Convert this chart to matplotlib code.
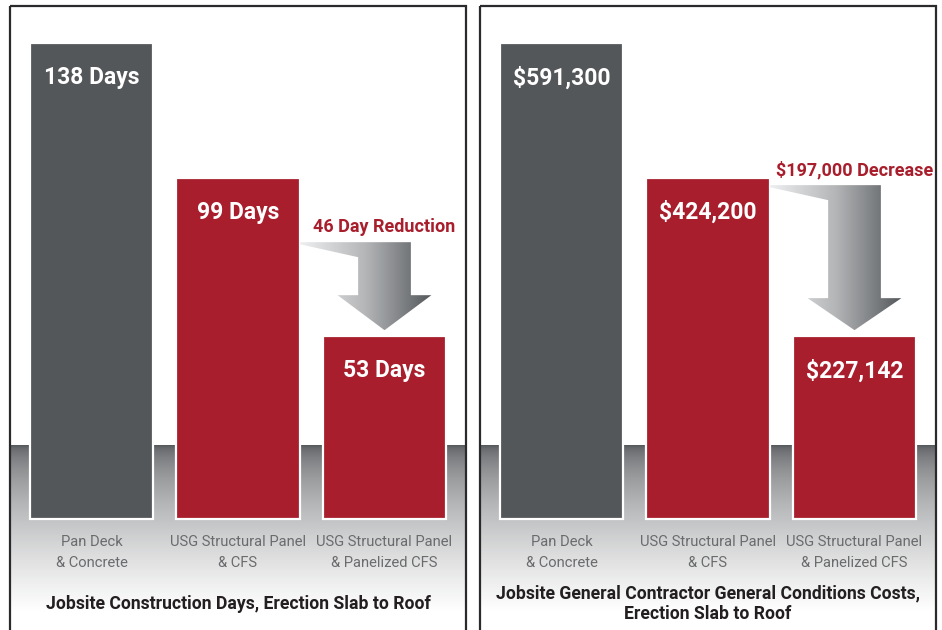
from __future__ import annotations

import matplotlib

matplotlib.use("Agg")
import matplotlib.pyplot as plt
import numpy as np
from matplotlib.colors import LinearSegmentedColormap
from matplotlib.patches import Polygon, Rectangle

# --- data -------------------------------------------------------------------
categories = ["Pan Deck\n& Concrete", "USG Structural Panel\n& CFS", "USG Structural Panel\n& Panelized CFS"]
days = [138, 99, 53]
costs = [591300, 424200, 227142]
day_labels = [f"{v} Days" for v in days]
cost_labels = [f"${v:,}" for v in costs]
day_note = "46 Day Reduction"
cost_note = "$197,000 Decrease"
day_title = "Jobsite Construction Days, Erection Slab to Roof"
cost_title = "Jobsite General Contractor General Conditions Costs,\nErection Slab to Roof"

# --- style ------------------------------------------------------------------
W, H = 942, 630
GRAY = "#54575a"
RED = "#a81e2c"
LABEL_GRAY = "#6a6b6d"
FONT = ["Liberation Sans Narrow", "Roboto", "DejaVu Sans"]
BAR_COLORS = [GRAY, RED, RED]
BAR_WIDTH = 0.84
BASE_PX = 519     # bar baseline, pixels from top
TOP_PX = 43       # top of tallest bar
SPACING_PX = 146.5

plt.rcParams["font.family"] = FONT


def _fig_rect(x0: float, y0: float, x1: float, y1: float) -> list[float]:
    return [x0 / W, 1 - y1 / H, (x1 - x0) / W, (y1 - y0) / H]


def _draw_panel(bg, x0: float, x1: float) -> None:
    # grey floor gradient fading to white
    t = np.linspace(0, 1, 256) ** 0.55
    floor = LinearSegmentedColormap.from_list("floor", [GRAY, "#ffffff"])
    bg.imshow(t[:, None], cmap=floor, extent=[x0, x1, 612, 445], aspect="auto",
              vmin=0, vmax=1, zorder=1)
    bg.add_patch(Rectangle((x0, 6), x1 - x0, 700, fill=False, edgecolor="#2a2a2c",
                           linewidth=1.6, zorder=2))


def _draw_arrow(ax, values, upp: float, top_px: float, head_px: float, note: str) -> None:
    c = 2
    tip = values[2] + 6 * upp
    head = tip + head_px * upp
    top = tip + top_px * upp
    x_tail = 1 + BAR_WIDTH / 2
    shaft, wing = 0.18, 0.32
    pts = [(x_tail, top), (c + shaft, top), (c + shaft, head), (c + wing, head), (c, tip),
           (c - wing, head), (c - shaft, head), (c - shaft, top - 15 * upp), (x_tail, top - 2 * upp)]
    poly = Polygon(pts, closed=True, facecolor="none", edgecolor="none")
    ax.add_patch(poly)
    grad = LinearSegmentedColormap.from_list("arrow", ["#eeeff0", "#b3b5b7", "#55585b"])
    img = ax.imshow(np.linspace(0, 1, 256)[None, :], cmap=grad, aspect="auto",
                    extent=[x_tail, c + wing, tip, top], zorder=4)
    img.set_clip_path(poly)
    ax.annotate(note, (c, top), xytext=(0, 11), textcoords="offset points", ha="center",
                va="center", color=RED, fontsize=13, fontweight="bold")


def _draw_bars(fig, x_center0: float, values, labels, note: str, title: str,
               top_px: float, head_px: float) -> None:
    left = x_center0 - SPACING_PX / 2
    right = left + 3 * SPACING_PX
    ax = fig.add_axes(_fig_rect(left, TOP_PX, right, BASE_PX), zorder=3)
    ax.set_facecolor("none")
    ax.set_xlim(-0.5, 2.5)
    ax.set_ylim(0, max(values))
    ax.axis("off")
    x = np.arange(len(values))
    ax.bar(x, values, width=BAR_WIDTH, color=BAR_COLORS, edgecolor="white",
           linewidth=1.6, clip_on=False, zorder=3)
    for i, (v, lab) in enumerate(zip(values, labels)):
        ax.annotate(lab, (i, v), xytext=(0, -25), textcoords="offset points", ha="center",
                    va="center", color="white", fontsize=16.5, fontweight="bold")
    for i, cat in enumerate(categories):
        ax.annotate(cat, (i, 0), xytext=(0, -24), textcoords="offset points", ha="center",
                    va="center", color=LABEL_GRAY, fontsize=10.6, linespacing=1.6,
                    annotation_clip=False)
    upp = max(values) / (BASE_PX - TOP_PX)
    _draw_arrow(ax, values, upp, top_px, head_px, note)
    ax.annotate(title, (1, 0), xytext=(0, -61), textcoords="offset points", ha="center",
                va="center", color="#231f20", fontsize=12.7, fontweight="bold",
                linespacing=1.2, annotation_clip=False)


fig = plt.figure(figsize=(W / 100, H / 100), dpi=100)
bg = fig.add_axes([0, 0, 1, 1], zorder=0)
bg.set_xlim(0, W)
bg.set_ylim(H, 0)
bg.axis("off")
_draw_panel(bg, 10, 466)
_draw_panel(bg, 480, 936)

_draw_bars(fig, 91.5, days, day_labels, day_note, day_title, top_px=88, head_px=35)
_draw_bars(fig, 561.5, costs, cost_labels, cost_note, cost_title, top_px=145, head_px=32)

fig.savefig("out.png", dpi=100)
